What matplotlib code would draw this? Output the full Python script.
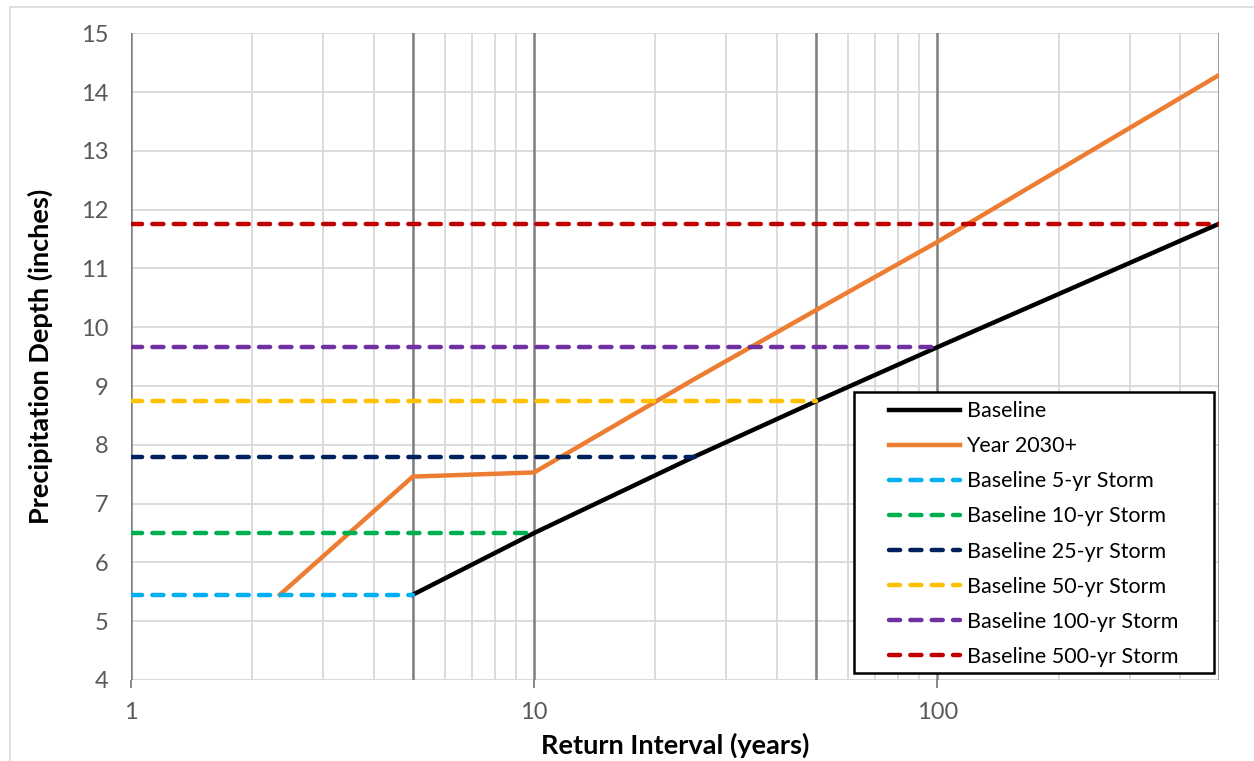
import numpy as np
import matplotlib
matplotlib.use("Agg")
import matplotlib.pyplot as plt
from matplotlib.patches import Rectangle
from matplotlib.ticker import FixedLocator, NullFormatter

plt.rcParams['font.family'] = ['Lato', 'DejaVu Sans']

# data
baseline_x = [5, 10, 25, 50, 100, 500]
baseline_y = [5.45, 6.50, 7.80, 8.74, 9.66, 11.76]

future_x = [2.34, 5, 10, 25, 50, 100, 500]
future_y = [5.45, 7.46, 7.53, 9.12, 10.29, 11.45, 14.29]

storm_names = ["Baseline 5-yr Storm", "Baseline 10-yr Storm", "Baseline 25-yr Storm",
               "Baseline 50-yr Storm", "Baseline 100-yr Storm", "Baseline 500-yr Storm"]
storm_end = [5, 10, 25, 50, 100, 500]
storm_depth = [5.45, 6.50, 7.80, 8.74, 9.66, 11.76]
storm_colors = ["#00B0F0", "#00B050", "#002060", "#FFC000", "#7030A0", "#C00000"]

dark_lines = [1, 5, 10, 50, 100, 500]

fig = plt.figure(figsize=(12.54, 7.61), dpi=100)
ax = fig.add_axes([131/1254, 1 - 680/761, 1088/1254, 646.7/761])

# outer chart border
fig.patches.append(Rectangle((10/1254, -0.01), 1.1, 1 - 7/761 + 0.01, transform=fig.transFigure,
                             fill=False, edgecolor="#d9d9d9", linewidth=1.2))

ax.set_xscale("log")
ax.set_xlim(1, 500)
ax.set_ylim(4, 15)

# gridlines
ax.set_yticks(range(4, 16))
ax.yaxis.grid(True, color="#d9d9d9", linewidth=1.3)
ax.xaxis.set_major_locator(FixedLocator([1, 10, 100]))
ax.xaxis.set_major_formatter(plt.FuncFormatter(lambda v, p: "%d" % v))
minor = [m * d for d in (1, 10, 100) for m in range(2, 10) if m * d < 500]
ax.xaxis.set_minor_locator(FixedLocator(minor))
ax.xaxis.set_minor_formatter(NullFormatter())
ax.xaxis.grid(True, which="minor", color="#d9d9d9", linewidth=1.3)
ax.set_axisbelow(True)
for x in dark_lines:
    ax.axvline(x, color="#7f7f7f", linewidth=1.8, zorder=1.5)

for s in ax.spines.values():
    s.set_visible(False)
ax.axhline(4, color="#d9d9d9", linewidth=1.3, zorder=1)

ax.tick_params(axis="y", length=0, labelsize=17, labelcolor="#595959", pad=16)
ax.tick_params(axis="x", which="major", length=6, width=1.3, color="#7f7f7f",
               labelsize=17, labelcolor="#595959", pad=10)
ax.tick_params(axis="x", which="minor", length=0)

ax.plot(baseline_x, baseline_y, color="black", linewidth=3.2, label="Baseline", zorder=3)
ax.plot(future_x, future_y, color="#ED7D31", linewidth=3.2, label="Year 2030+", zorder=3)
for name, xe, d, c in zip(storm_names, storm_end, storm_depth, storm_colors):
    ax.plot([1, xe], [d, d], color=c, linewidth=3.2, dashes=(2.5, 2.3),
            dash_capstyle="round", label=name, zorder=3.5)

ax.set_xlabel("Return Interval (years)", fontsize=19.5, fontweight="bold", labelpad=7)
ax.set_ylabel("Precipitation Depth (inches)", fontsize=19.5, fontweight="bold", labelpad=20)

# legend box
ax.add_patch(Rectangle((0.6645, 0.0108), 0.3309, 0.4345, transform=ax.transAxes,
                       facecolor="white", edgecolor="black", linewidth=1.8, zorder=4.5))
leg = ax.legend(loc="upper left", bbox_to_anchor=(0.6967, 0.431), frameon=False,
                fontsize=15.5, handlelength=3.3, handletextpad=0.3, labelspacing=0.7,
                borderpad=0, borderaxespad=0)
leg.set_zorder(5)

fig.savefig("out.png", dpi=100)
